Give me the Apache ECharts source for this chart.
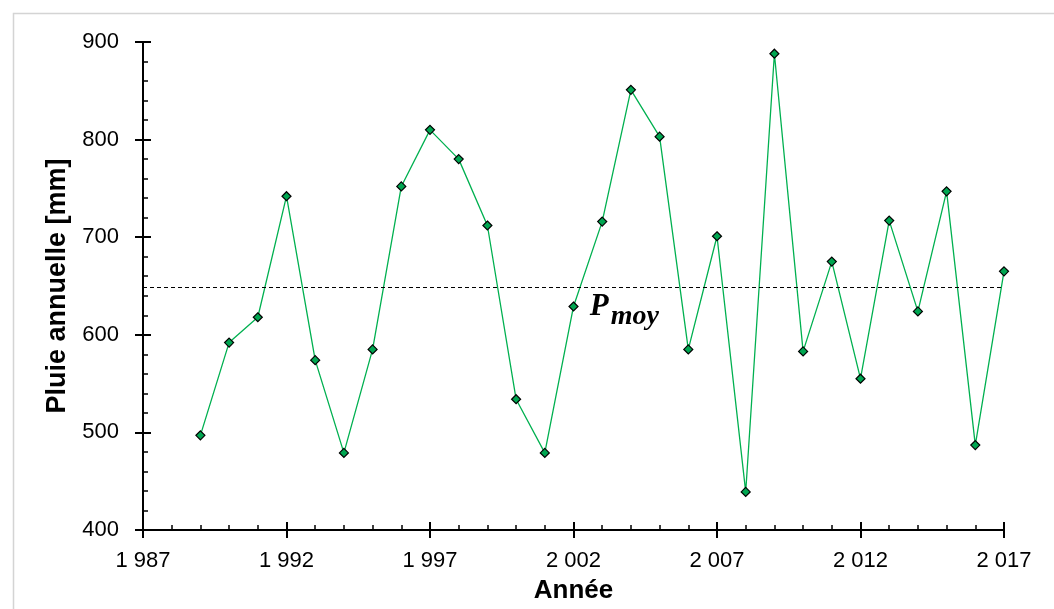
<!DOCTYPE html>
<html>
<head>
<meta charset="utf-8">
<script src="https://cdn.jsdelivr.net/npm/echarts@6/dist/echarts.min.js"></script>
<style>html,body{margin:0;padding:0;background:#fff}#c{width:1054px;height:609px}</style>
</head>
<body>
<div id="c"></div>
<script>
const years = [1989,1990,1991,1992,1993,1994,1995,1996,1997,1998,1999,2000,2001,2002,2003,2004,2005,2006,2007,2008,2009,2010,2011,2012,2013,2014,2015,2016,2017];
const rain = [497,592,618,742,574,479,585,752,810,780,712,534,479,629,716,851,803,585,701,439,888,583,675,555,717,624,747,487,665];
const xTicks = {min:1987, max:2017, interval:5};
const yTicks = {min:400, max:900, interval:100};
const meanLabelPos = [2002.57, 624];

const pMoy = rain.reduce((a,b)=>a+b,0)/rain.length;
const points = years.map((y,i)=>[y, rain[i]]);
const fmtYear = v => String(v).replace(/\B(?=(\d{3})+(?!\d))/g, ' ');

const chart = echarts.init(document.getElementById('c'), null, {renderer:'canvas'});
const labelFont = {fontFamily:'Liberation Sans', fontSize:22, color:'#000'};
const lineStyle = {color:'#000', width:2};

chart.setOption({
  animation:false,
  backgroundColor:'#fff',
  graphic:[{type:'rect', left:11, top:11, shape:{width:1100, height:700}, style:{fill:'none', stroke:'#d4d4d4', lineWidth:1.5}, silent:true}],
  grid:{left:143, right:50, top:42, bottom:73},
  xAxis:[
    {type:'value', position:'bottom', min:xTicks.min, max:xTicks.max, interval:xTicks.interval,
     axisLine:{onZero:false, lineStyle}, axisTick:{show:true, length:8, inside:false, lineStyle},
     axisLabel:Object.assign({formatter:fmtYear, margin:20}, labelFont), splitLine:{show:false},
     name:'Année', nameLocation:'middle', nameGap:48,
     nameTextStyle:{fontFamily:'Liberation Sans', fontWeight:'bold', fontSize:26, color:'#000'}},
    {type:'value', position:'bottom', min:xTicks.min, max:xTicks.max, interval:xTicks.interval,
     axisLine:{onZero:false, lineStyle}, axisTick:{show:true, length:8, inside:true, lineStyle},
     minorTick:{show:true, splitNumber:5, length:5, lineStyle:{color:'#000', width:1.5}},
     axisLabel:{show:false}, splitLine:{show:false}}
  ],
  yAxis:[
    {type:'value', position:'left', min:yTicks.min, max:yTicks.max, interval:yTicks.interval,
     axisLine:{show:true, onZero:false, lineStyle}, axisTick:{show:true, length:8, inside:false, lineStyle},
     axisLabel:Object.assign({margin:24}, labelFont), splitLine:{show:false},
     name:'Pluie annuelle [mm]', nameLocation:'middle', nameGap:68,
     nameTextStyle:{fontFamily:'Liberation Sans', fontWeight:'bold', fontSize:27, color:'#000'}},
    {type:'value', position:'left', min:yTicks.min, max:yTicks.max, interval:yTicks.interval,
     axisLine:{show:true, onZero:false, lineStyle}, axisTick:{show:true, length:8, inside:true, lineStyle},
     minorTick:{show:true, splitNumber:5, length:5, lineStyle:{color:'#000', width:1.5}},
     axisLabel:{show:false}, splitLine:{show:false}}
  ],
  series:[{
    type:'line', xAxisIndex:0, yAxisIndex:0, data:points,
    lineStyle:{color:'#00B050', width:1.3},
    symbol:'diamond', symbolSize:9, showSymbol:true,
    itemStyle:{color:'#00A651', borderColor:'#000', borderWidth:1.2},
    markLine:{silent:true, symbol:'none', label:{show:false},
      lineStyle:{color:'#000', type:[4,3], width:1},
      data:[[{coord:[xTicks.min, pMoy]},{coord:[xTicks.max, pMoy]}]]},
    markPoint:{silent:true, symbol:'circle', symbolSize:0,
      data:[{coord:meanLabelPos}],
      label:{show:true, position:'right', distance:0, formatter:'{P|P}{s|moy}',
        rich:{
          P:{fontFamily:'Liberation Serif', fontStyle:'italic', fontWeight:'bold', fontSize:31, color:'#000', verticalAlign:'bottom', padding:[0,2,8,0]},
          s:{fontFamily:'Liberation Serif', fontStyle:'italic', fontWeight:'bold', fontSize:28, color:'#000', verticalAlign:'bottom'}
        }}}
  }]
});
</script>
</body>
</html>
